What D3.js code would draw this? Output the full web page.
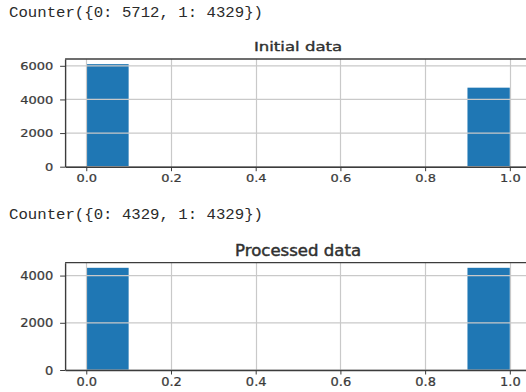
<!DOCTYPE html>
<html>
<head>
<meta charset="utf-8">
<script src="https://cdn.jsdelivr.net/npm/d3@7"></script>
<style>
  body { margin: 0; background: #fff; }
  svg { display: block; }
</style>
</head>
<body>
<div id="graph"></div>
<script>
// histogram bins (10 bins over 0..1)
var binEdges = [0.0, 0.1, 0.2, 0.3, 0.4, 0.5, 0.6, 0.7, 0.8, 0.9, 1.0];
var initialCounts = [6100, 0, 0, 0, 0, 0, 0, 0, 0, 4700];
var processedCounts = [4329, 0, 0, 0, 0, 0, 0, 0, 0, 4329];

// tick labels
var xTicks = [0.0, 0.2, 0.4, 0.6, 0.8, 1.0];
var initialYTicks = [0, 2000, 4000, 6000];
var processedYTicks = [0, 2000, 4000];

// text
var counterTexts = ["Counter({0: 5712, 1: 4329})", "Counter({0: 4329, 1: 4329})"];
var titleTexts = ["Initial data", "Processed data"];

var svgWidth = 526;
var svgHeight = 392;
var barColor = "#1f77b4";
var gridColor = "#c9c9c9";
var inkColor = "#3c3c3c";

// the screenshot is stretched, so text gets scaled per panel
var panels = [
	{counts: initialCounts, yTicks: initialYTicks, counter: counterTexts[0], title: titleTexts[0],
	 counterY: 17, titleY: 51, top: 59, bottom: 166.7, xLabelY: 182.3, sy: 1.05, titleSy: 1.05},
	{counts: processedCounts, yTicks: processedYTicks, counter: counterTexts[1], title: titleTexts[1],
	 counterY: 218.5, titleY: 256, top: 262.7, bottom: 370, xLabelY: 386.5, sy: 1.15, titleSy: 1.25}
];

var sx = 1.3;		// horizontal stretch of tick labels
var titleSx = 1.38;	// horizontal stretch of titles

var svg = d3.select("#graph")
	.append("svg")
	.attr("width", svgWidth)
	.attr("height", svgHeight);

// same x scale for both panels (matplotlib adds 5% margin)
var xScale = d3.scaleLinear()
	.domain([-0.05, 1.05])
	.range([65.1, 531]);

panels.forEach(function(p, k) {
	var ymax = d3.max(p.counts) * 1.05;
	var yScale = d3.scaleLinear()
		.domain([0, ymax])
		.range([p.bottom, p.top]);

	// Counter(...) output line
	svg.append("text")
		.attr("x", 9)
		.attr("y", p.counterY)
		.attr("font-family", "'Liberation Mono', 'Courier New', monospace")
		.attr("font-size", 15)
		.attr("fill", "#2a2a2a")
		.attr("textLength", 254)
		.attr("lengthAdjust", "spacingAndGlyphs")
		.text(p.counter);

	// chart title
	var cx = (xScale.range()[0] + xScale.range()[1]) / 2;
	svg.append("text")
		.attr("transform", "translate(" + cx + "," + p.titleY + ") scale(" + titleSx + "," + p.titleSy + ")")
		.attr("text-anchor", "middle")
		.attr("font-family", "'DejaVu Sans', sans-serif")
		.attr("font-size", 12)
		.attr("fill", "#303030")
		.attr("stroke", "#303030")
		.attr("stroke-width", 0.35)
		.text(p.title);

	var g = svg.append("g").attr("class", "panel" + k);

	// bars
	g.selectAll("rect")
		.data(p.counts)
		.enter().append("rect")
		.attr("x", function(d, i) { return xScale(binEdges[i]); })
		.attr("width", function(d, i) { return xScale(binEdges[i + 1]) - xScale(binEdges[i]); })
		.attr("y", function(d) { return yScale(d); })
		.attr("height", function(d) { return p.bottom - yScale(d); })
		.attr("fill", barColor);

	// grid on top of the bars
	var grid = g.append("g").attr("class", "grid");
	grid.selectAll(".vg")
		.data(xTicks)
		.enter().append("line")
		.attr("x1", function(d) { return Math.round(xScale(d)) + 0.5; })
		.attr("x2", function(d) { return Math.round(xScale(d)) + 0.5; })
		.attr("y1", p.top)
		.attr("y2", p.bottom)
		.attr("stroke", gridColor)
		.attr("stroke-width", 1.2);
	grid.selectAll(".hg")
		.data(p.yTicks)
		.enter().append("line")
		.attr("x1", xScale.range()[0])
		.attr("x2", xScale.range()[1])
		.attr("y1", function(d) { return yScale(d); })
		.attr("y2", function(d) { return yScale(d); })
		.attr("stroke", gridColor)
		.attr("stroke-width", 1.2);

	// x axis
	var xAxisGroup = g.append("g")
		.attr("transform", "translate(0," + p.bottom + ")")
		.call(d3.axisBottom(xScale).tickValues(xTicks).tickFormat(d3.format(".1f")).tickSize(4.5).tickSizeOuter(0));
	xAxisGroup.select(".domain").attr("stroke", inkColor).attr("stroke-width", 1.4);
	xAxisGroup.selectAll(".tick line").attr("stroke", inkColor);
	xAxisGroup.selectAll(".tick text")
		.attr("x", 0)
		.attr("dy", null)
		.attr("y", (p.xLabelY - p.bottom) / p.sy)
		.attr("transform", "scale(" + sx + "," + p.sy + ")")
		.attr("font-family", "'DejaVu Sans', sans-serif")
		.attr("font-size", 10)
		.attr("fill", "#3a3a3a")
		.attr("stroke", "#3a3a3a")
		.attr("stroke-width", 0.2);

	// y axis
	var yAxisGroup = g.append("g")
		.attr("transform", "translate(" + xScale.range()[0] + ",0)")
		.call(d3.axisLeft(yScale).tickValues(p.yTicks).tickFormat(d3.format("d")).tickSize(5).tickSizeOuter(0));
	yAxisGroup.select(".domain").attr("stroke", inkColor).attr("stroke-width", 1.4);
	yAxisGroup.selectAll(".tick line").attr("stroke", inkColor);
	yAxisGroup.selectAll(".tick text")
		.attr("x", -11.8 / sx)
		.attr("dy", "0.36em")
		.attr("transform", "scale(" + sx + "," + p.sy + ")")
		.attr("font-family", "'DejaVu Sans', sans-serif")
		.attr("font-size", 10)
		.attr("fill", "#3a3a3a")
		.attr("stroke", "#3a3a3a")
		.attr("stroke-width", 0.2);

	// top spine
	g.append("line")
		.attr("x1", xScale.range()[0])
		.attr("x2", xScale.range()[1])
		.attr("y1", p.top)
		.attr("y2", p.top)
		.attr("stroke", inkColor)
		.attr("stroke-width", 1.3);
});
</script>
</body>
</html>
